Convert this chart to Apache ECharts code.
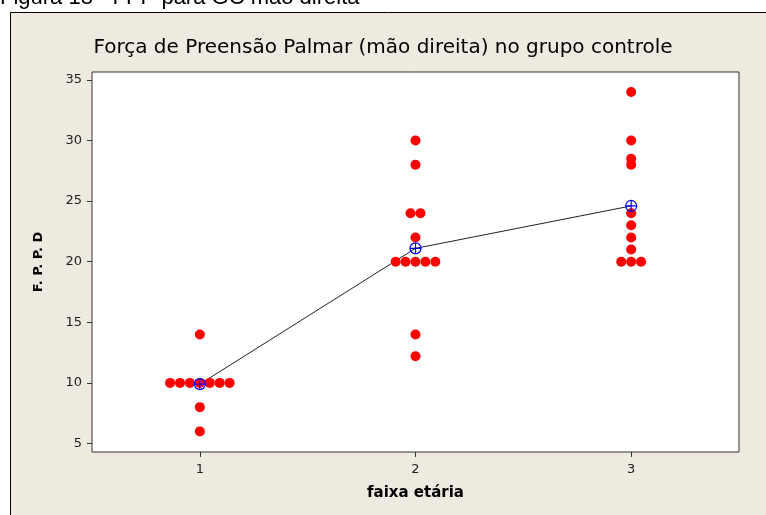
<!DOCTYPE html>
<html>
<head>
<meta charset="utf-8">
<script src="https://cdn.jsdelivr.net/npm/echarts@6/dist/echarts.min.js"></script>
<style>
html,body{margin:0;padding:0;background:#fff;}
#chart{width:766px;height:515px;}
</style>
</head>
<body>
<div id="chart"></div>
<script>
// ---- data ----
const categories = [1, 2, 3];                      // faixa etária
const group1 = [14, 10, 10, 10, 10, 10, 10, 10, 8, 6];
const group2 = [30, 28, 24, 24, 22, 20, 20, 20, 20, 20, 14, 12.2];
const group3 = [34, 30, 28.5, 28, 24, 23, 22, 21, 20, 20, 20];
const means = [9.9, 21.1, 24.6];
const yTicks = [5, 10, 15, 20, 25, 30, 35];
const xTicks = [1, 2, 3];

const titleText = 'Força de Preensão Palmar (mão direita) no grupo controle';
const figureText = 'Figura 18 - FPP para GC mão direita';

// spread tied values side by side (individual value plot layout)
const STEP = 0.046;
function spread(cat, vals) {
  const counts = {};
  vals.forEach(v => { counts[v] = (counts[v] || 0) + 1; });
  const seen = {};
  return vals.map(v => {
    const n = counts[v];
    const i = seen[v] = (seen[v] === undefined ? 0 : seen[v] + 1);
    return [cat + (i - (n - 1) / 2) * STEP, v];
  });
}
const points = [].concat(
  spread(categories[0], group1),
  spread(categories[1], group2),
  spread(categories[2], group3)
);
const meanData = categories.map((c, i) => [c, means[i]]);

const chart = echarts.init(document.getElementById('chart'));
const font = '"DejaVu Sans", sans-serif';
chart.setOption({
  backgroundColor: '#ffffff',
  animation: false,
  graphic: [
    { type: 'rect', z: -100, silent: true,
      shape: { x: 10.5, y: 12.5, width: 800, height: 600 },
      style: { fill: '#EEEAE0', stroke: '#000000', lineWidth: 1 } },
    { type: 'text', z: 10, silent: true, left: 0, top: -13,
      style: { text: figureText, font: '22px "Liberation Sans", Arial, sans-serif', fill: '#000' } },
    { type: 'text', z: 10, silent: true, left: 'center', top: 38,
      style: { text: titleText, font: '20px "DejaVu Sans", sans-serif', fill: '#000' } }
  ],
  grid: {
    left: 92, right: 27, top: 72, bottom: 63,
    show: true, backgroundColor: '#ffffff',
    borderColor: '#333333', borderWidth: 1
  },
  xAxis: {
    type: 'value', min: 0.5, max: 3.5,
    name: 'faixa etária', nameLocation: 'middle', nameGap: 34,
    nameTextStyle: { fontFamily: font, fontSize: 15, fontWeight: 'bold', color: '#000' },
    axisLine: { show: false },
    splitLine: { show: false },
    axisTick: { show: true, inside: false, length: 5, customValues: xTicks, lineStyle: { color: '#333' } },
    axisLabel: { customValues: xTicks, margin: 11, fontFamily: font, fontSize: 13, color: '#222' }
  },
  yAxis: {
    type: 'value', min: 4.3, max: 35.65,
    name: 'F. P. P. D', nameLocation: 'middle', nameGap: 47, nameRotate: 90,
    nameTextStyle: { fontFamily: font, fontSize: 13, fontWeight: 'bold', color: '#000' },
    axisLine: { show: false },
    splitLine: { show: false },
    axisTick: { show: true, inside: false, length: 5, customValues: yTicks, lineStyle: { color: '#333' } },
    axisLabel: { customValues: yTicks, margin: 10, fontFamily: font, fontSize: 13, color: '#222' }
  },
  series: [
    {
      type: 'line', data: meanData, z: 2,
      symbol: 'none',
      lineStyle: { color: '#222', width: 1 }
    },
    {
      type: 'scatter', data: points, z: 3,
      symbol: 'circle', symbolSize: 10,
      itemStyle: { color: '#FF0000', opacity: 1 }
    },
    {
      type: 'scatter', data: meanData, z: 4,
      symbol: 'circle', symbolSize: 11,
      itemStyle: { color: 'rgba(0,0,0,0)', borderColor: '#0000FF', borderWidth: 1.2, opacity: 1 }
    },
    {
      type: 'scatter', data: meanData, z: 5,
      symbol: 'path://M5,0 L5,10 M0,5 L10,5', symbolSize: 11,
      itemStyle: { color: 'rgba(0,0,0,0)', borderColor: '#0000FF', borderWidth: 1.2, opacity: 1 }
    }
  ]
});
</script>
</body>
</html>
